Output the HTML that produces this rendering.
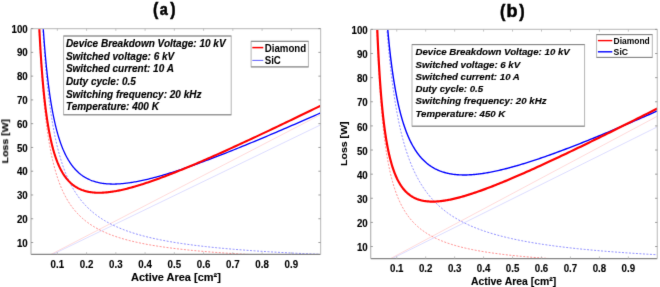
<!DOCTYPE html>
<html><head><meta charset="utf-8"><style>
html,body{margin:0;padding:0;background:#fff;overflow:hidden;}
svg{display:block;}
text{font-family:"Liberation Sans", sans-serif;}
</style></head><body>
<svg width="660" height="287" viewBox="0 0 660 287" font-family='"Liberation Sans", sans-serif' fill="#000">
<defs><filter id="soft" x="0" y="0" width="660" height="287" filterUnits="userSpaceOnUse" color-interpolation-filters="sRGB"><feConvolveMatrix order="3" kernelMatrix="1 10 1 10 100 10 1 10 1" divisor="144" edgeMode="duplicate"/></filter></defs>
<g filter="url(#soft)">
<rect width="660" height="287" fill="#fff"/>
<clipPath id="ca"><rect x="31" y="28.6" width="289.6" height="225.8"/></clipPath>
<g clip-path="url(#ca)"><path d="M46.41,256.78 L320.6,114.64" fill="none" stroke="#ffbcbc" stroke-width="0.55" opacity="1"/><path d="M47.74,256.78 L320.6,124.86" fill="none" stroke="#c0c0ff" stroke-width="0.55" opacity="1"/><path d="M38.52,16.72 L38.66,20.03 L38.81,23.31 L38.95,26.54 L39.1,29.72 L39.25,32.87 L39.4,35.97 L39.55,39.03 L39.7,42.05 L39.86,45.03 L40.02,47.98 L40.18,50.88 L40.34,53.74 L40.51,56.57 L40.67,59.35 L40.84,62.11 L41.02,64.82 L41.19,67.5 L41.37,70.14 L41.55,72.75 L41.73,75.32 L41.91,77.86 L42.1,80.36 L42.29,82.83 L42.48,85.27 L42.67,87.68 L42.87,90.05 L43.07,92.4 L43.27,94.71 L43.48,96.99 L43.68,99.24 L43.89,101.46 L44.11,103.65 L44.32,105.81 L44.54,107.95 L44.76,110.05 L44.99,112.13 L45.22,114.18 L45.45,116.2 L45.68,118.19 L45.92,120.16 L46.16,122.11 L46.4,124.02 L46.65,125.91 L46.9,127.78 L47.15,129.62 L47.41,131.44 L47.67,133.23 L47.93,135 L48.2,136.74 L48.47,138.47 L48.75,140.16 L49.03,141.84 L49.31,143.5 L49.59,145.13 L49.88,146.74 L50.18,148.33 L50.48,149.9 L50.78,151.44 L51.08,152.97 L51.39,154.48 L51.71,155.96 L52.03,157.43 L52.35,158.88 L52.68,160.3 L53.01,161.71 L53.34,163.1 L53.68,164.47 L54.03,165.83 L54.38,167.16 L54.73,168.48 L55.09,169.78 L55.46,171.06 L55.83,172.33 L56.2,173.58 L56.58,174.81 L56.96,176.03 L57.35,177.23 L57.75,178.41 L58.15,179.58 L58.55,180.73 L58.96,181.87 L59.38,182.99 L59.8,184.1 L60.23,185.19 L60.66,186.27 L61.1,187.33 L61.54,188.38 L61.99,189.42 L62.45,190.44 L62.91,191.45 L63.38,192.44 L63.86,193.42 L64.34,194.39 L64.83,195.35 L65.33,196.29 L65.83,197.22 L66.34,198.14 L66.85,199.04 L67.37,199.94 L67.9,200.82 L68.44,201.69 L68.98,202.55 L69.53,203.4 L70.09,204.23 L70.66,205.06 L71.23,205.87 L71.81,206.67 L72.4,207.47 L73,208.25 L73.61,209.02 L74.22,209.78 L74.84,210.53 L75.47,211.27 L76.11,212 L76.76,212.73 L77.41,213.44 L78.08,214.14 L78.75,214.83 L79.43,215.52 L80.13,216.19 L80.83,216.86 L81.54,217.52 L82.26,218.16 L82.99,218.8 L83.73,219.43 L84.48,220.06 L85.24,220.67 L86.01,221.28 L86.79,221.88 L87.58,222.47 L88.38,223.05 L89.19,223.62 L90.02,224.19 L90.85,224.75 L91.7,225.3 L92.55,225.85 L93.42,226.39 L94.3,226.92 L95.2,227.44 L96.1,227.96 L97.02,228.46 L97.94,228.97 L98.89,229.46 L99.84,229.95 L100.81,230.44 L101.79,230.91 L102.78,231.38 L103.79,231.85 L104.81,232.3 L105.84,232.76 L106.89,233.2 L107.95,233.64 L109.03,234.08 L110.12,234.5 L111.22,234.93 L112.34,235.34 L113.48,235.75 L114.63,236.16 L115.79,236.56 L116.98,236.96 L118.17,237.35 L119.39,237.73 L120.62,238.11 L121.86,238.48 L123.13,238.85 L124.41,239.22 L125.71,239.58 L127.02,239.93 L128.35,240.28 L129.71,240.63 L131.07,240.97 L132.46,241.31 L133.87,241.64 L135.29,241.97 L136.74,242.29 L138.2,242.61 L139.69,242.92 L141.19,243.23 L142.71,243.54 L144.26,243.84 L145.82,244.14 L147.41,244.44 L149.02,244.73 L150.65,245.01 L152.3,245.3 L153.97,245.57 L155.67,245.85 L157.39,246.12 L159.13,246.39 L160.89,246.65 L162.68,246.91 L164.5,247.17 L166.34,247.43 L168.2,247.68 L170.09,247.92 L172,248.17 L173.94,248.41 L175.9,248.65 L177.89,248.88 L179.91,249.11 L181.96,249.34 L184.03,249.57 L186.13,249.79 L188.26,250.01 L190.42,250.22 L192.61,250.44 L194.82,250.65 L197.07,250.86 L199.35,251.06 L201.65,251.26 L203.99,251.46 L206.36,251.66 L208.77,251.85 L211.2,252.05 L213.67,252.24 L216.17,252.42 L218.7,252.61 L221.27,252.79 L223.87,252.97 L226.51,253.14 L229.18,253.32 L231.89,253.49 L234.64,253.66 L237.42,253.83 L240.24,254 L243.1,254.16 L246,254.32 L248.93,254.48 L251.91,254.64 L254.92,254.79 L257.98,254.94 L261.08,255.09 L264.22,255.24 L267.4,255.39 L270.62,255.53 L273.89,255.68 L277.2,255.82 L280.56,255.96 L283.96,256.09 L287.41,256.23 L290.9,256.36 L294.44,256.5 L298.03,256.63 L301.67,256.75 L305.35,256.88 L309.09,257.01 L312.87,257.13 L316.71,257.25 L320.6,257.37" fill="none" stroke="#ff6a6a" stroke-width="0.75" stroke-dasharray="2,1.5" opacity="1"/><path d="M42.09,16.72 L42.26,19.74 L42.43,22.73 L42.61,25.69 L42.79,28.61 L42.97,31.49 L43.15,34.34 L43.34,37.15 L43.53,39.93 L43.71,42.67 L43.91,45.39 L44.1,48.06 L44.3,50.71 L44.5,53.33 L44.7,55.91 L44.9,58.46 L45.11,60.98 L45.32,63.47 L45.53,65.93 L45.74,68.36 L45.96,70.76 L46.18,73.13 L46.4,75.48 L46.63,77.79 L46.86,80.08 L47.09,82.34 L47.32,84.57 L47.56,86.77 L47.8,88.95 L48.04,91.1 L48.28,93.22 L48.53,95.32 L48.78,97.4 L49.04,99.44 L49.29,101.47 L49.55,103.47 L49.82,105.44 L50.09,107.39 L50.36,109.32 L50.63,111.22 L50.91,113.1 L51.19,114.96 L51.47,116.8 L51.76,118.61 L52.05,120.4 L52.34,122.17 L52.64,123.92 L52.94,125.65 L53.25,127.35 L53.56,129.04 L53.87,130.7 L54.19,132.35 L54.51,133.97 L54.83,135.57 L55.16,137.16 L55.49,138.73 L55.83,140.27 L56.17,141.8 L56.51,143.31 L56.86,144.8 L57.22,146.28 L57.57,147.73 L57.94,149.17 L58.3,150.59 L58.67,151.99 L59.05,153.38 L59.43,154.75 L59.82,156.1 L60.21,157.44 L60.6,158.76 L61,160.06 L61.4,161.35 L61.81,162.62 L62.23,163.88 L62.65,165.12 L63.07,166.35 L63.5,167.56 L63.94,168.76 L64.38,169.94 L64.82,171.11 L65.27,172.27 L65.73,173.41 L66.19,174.53 L66.66,175.65 L67.13,176.74 L67.61,177.83 L68.1,178.9 L68.59,179.96 L69.09,181.01 L69.59,182.04 L70.1,183.07 L70.62,184.08 L71.14,185.07 L71.67,186.06 L72.2,187.03 L72.74,187.99 L73.29,188.94 L73.85,189.88 L74.41,190.81 L74.98,191.72 L75.55,192.63 L76.14,193.52 L76.73,194.4 L77.33,195.27 L77.93,196.14 L78.54,196.99 L79.16,197.83 L79.79,198.66 L80.42,199.48 L81.07,200.29 L81.72,201.09 L82.38,201.88 L83.04,202.66 L83.72,203.43 L84.4,204.19 L85.09,204.95 L85.79,205.69 L86.5,206.43 L87.22,207.15 L87.94,207.87 L88.68,208.58 L89.42,209.28 L90.18,209.97 L90.94,210.65 L91.71,211.33 L92.49,211.99 L93.28,212.65 L94.08,213.3 L94.89,213.94 L95.71,214.58 L96.54,215.21 L97.39,215.83 L98.24,216.44 L99.1,217.04 L99.97,217.64 L100.85,218.23 L101.75,218.81 L102.65,219.39 L103.57,219.96 L104.49,220.52 L105.43,221.07 L106.38,221.62 L107.34,222.16 L108.32,222.7 L109.3,223.23 L110.3,223.75 L111.31,224.27 L112.33,224.78 L113.36,225.28 L114.41,225.78 L115.47,226.27 L116.54,226.75 L117.63,227.23 L118.73,227.71 L119.84,228.17 L120.97,228.64 L122.11,229.09 L123.26,229.54 L124.43,229.99 L125.62,230.43 L126.81,230.86 L128.03,231.29 L129.25,231.72 L130.5,232.14 L131.75,232.55 L133.03,232.96 L134.32,233.37 L135.62,233.76 L136.94,234.16 L138.28,234.55 L139.63,234.93 L141,235.31 L142.39,235.69 L143.79,236.06 L145.21,236.43 L146.65,236.79 L148.1,237.15 L149.58,237.5 L151.07,237.85 L152.58,238.19 L154.11,238.54 L155.66,238.87 L157.22,239.2 L158.81,239.53 L160.41,239.86 L162.04,240.18 L163.68,240.49 L165.35,240.81 L167.03,241.12 L168.74,241.42 L170.47,241.72 L172.21,242.02 L173.98,242.32 L175.77,242.61 L177.59,242.89 L179.42,243.18 L181.28,243.46 L183.16,243.73 L185.07,244.01 L186.99,244.28 L188.95,244.54 L190.92,244.81 L192.92,245.07 L194.94,245.33 L196.99,245.58 L199.07,245.83 L201.17,246.08 L203.29,246.32 L205.44,246.57 L207.62,246.81 L209.83,247.04 L212.06,247.28 L214.32,247.51 L216.6,247.73 L218.92,247.96 L221.26,248.18 L223.63,248.4 L226.03,248.62 L228.46,248.83 L230.92,249.04 L233.41,249.25 L235.94,249.46 L238.49,249.66 L241.07,249.86 L243.69,250.06 L246.33,250.26 L249.01,250.45 L251.73,250.65 L254.47,250.84 L257.25,251.02 L260.06,251.21 L262.91,251.39 L265.8,251.57 L268.72,251.75 L271.67,251.93 L274.66,252.1 L277.69,252.27 L280.75,252.44 L283.85,252.61 L287,252.78 L290.17,252.94 L293.39,253.1 L296.65,253.26 L299.95,253.42 L303.29,253.58 L306.66,253.73 L310.08,253.88 L313.55,254.03 L317.05,254.18 L320.6,254.33" fill="none" stroke="#6a6aff" stroke-width="0.75" stroke-dasharray="2,1.5" opacity="1"/><path d="M41.45,-1.64 L41.59,0.98 L41.73,3.57 L41.87,6.13 L42.01,8.66 L42.16,11.17 L42.31,13.65 L42.45,16.1 L42.6,18.52 L42.75,20.92 L42.91,23.29 L43.06,25.64 L43.21,27.96 L43.37,30.26 L43.53,32.53 L43.69,34.77 L43.85,36.99 L44.02,39.19 L44.18,41.36 L44.35,43.51 L44.52,45.63 L44.69,47.73 L44.86,49.81 L45.03,51.87 L45.21,53.9 L45.39,55.91 L45.57,57.89 L45.75,59.86 L45.93,61.8 L46.12,63.72 L46.3,65.62 L46.49,67.5 L46.68,69.36 L46.88,71.19 L47.07,73.01 L47.27,74.8 L47.47,76.57 L47.67,78.33 L47.87,80.06 L48.08,81.78 L48.29,83.47 L48.49,85.15 L48.71,86.8 L48.92,88.44 L49.14,90.06 L49.36,91.65 L49.58,93.23 L49.8,94.8 L50.02,96.34 L50.25,97.87 L50.48,99.37 L50.71,100.86 L50.95,102.34 L51.19,103.79 L51.43,105.23 L51.67,106.65 L51.91,108.05 L52.16,109.44 L52.41,110.81 L52.66,112.16 L52.92,113.5 L53.18,114.82 L53.44,116.12 L53.7,117.41 L53.96,118.68 L54.23,119.94 L54.5,121.18 L54.78,122.41 L55.06,123.62 L55.33,124.81 L55.62,125.99 L55.9,127.16 L56.19,128.31 L56.48,129.44 L56.78,130.57 L57.08,131.67 L57.38,132.76 L57.68,133.84 L57.99,134.91 L58.3,135.96 L58.61,136.99 L58.93,138.02 L59.25,139.02 L59.57,140.02 L59.9,141 L60.23,141.97 L60.56,142.93 L60.9,143.87 L61.24,144.8 L61.58,145.71 L61.93,146.62 L62.28,147.51 L62.64,148.38 L62.99,149.25 L63.36,150.1 L63.72,150.94 L64.09,151.77 L64.47,152.59 L64.84,153.39 L65.22,154.18 L65.61,154.96 L66,155.73 L66.39,156.49 L66.79,157.23 L67.19,157.97 L67.6,158.69 L68.01,159.4 L68.42,160.1 L68.84,160.78 L69.26,161.46 L69.69,162.13 L70.12,162.78 L70.56,163.42 L71,164.06 L71.44,164.68 L71.89,165.29 L72.35,165.89 L72.81,166.48 L73.27,167.05 L73.74,167.62 L74.21,168.18 L74.69,168.73 L75.17,169.26 L75.66,169.79 L76.16,170.3 L76.66,170.81 L77.16,171.3 L77.67,171.79 L78.18,172.26 L78.7,172.73 L79.23,173.18 L79.76,173.63 L80.29,174.07 L80.84,174.49 L81.38,174.91 L81.94,175.31 L82.49,175.71 L83.06,176.1 L83.63,176.47 L84.21,176.84 L84.79,177.2 L85.38,177.55 L85.97,177.89 L86.57,178.22 L87.18,178.54 L87.79,178.85 L88.41,179.15 L89.04,179.44 L89.67,179.73 L90.31,180 L90.95,180.27 L91.6,180.52 L92.26,180.77 L92.93,181 L93.6,181.23 L94.28,181.45 L94.97,181.66 L95.66,181.86 L96.36,182.06 L97.07,182.24 L97.79,182.41 L98.51,182.58 L99.24,182.74 L99.98,182.88 L100.72,183.02 L101.48,183.15 L102.24,183.27 L103.01,183.39 L103.78,183.49 L104.57,183.58 L105.36,183.67 L106.16,183.75 L106.97,183.81 L107.79,183.87 L108.62,183.92 L109.45,183.97 L110.3,184 L111.15,184.02 L112.01,184.04 L112.88,184.05 L113.76,184.04 L114.65,184.03 L115.55,184.01 L116.46,183.99 L117.37,183.95 L118.3,183.9 L119.24,183.85 L120.18,183.79 L121.14,183.71 L122.1,183.63 L123.08,183.54 L124.06,183.44 L125.06,183.34 L126.06,183.22 L127.08,183.1 L128.11,182.96 L129.14,182.82 L130.19,182.67 L131.25,182.51 L132.32,182.34 L133.4,182.16 L134.49,181.97 L135.6,181.78 L136.71,181.57 L137.84,181.36 L138.98,181.13 L140.13,180.9 L141.29,180.66 L142.47,180.41 L143.65,180.15 L144.85,179.88 L146.06,179.6 L147.29,179.31 L148.52,179.02 L149.77,178.71 L151.03,178.4 L152.31,178.07 L153.6,177.74 L154.9,177.39 L156.21,177.04 L157.54,176.68 L158.89,176.31 L160.24,175.93 L161.61,175.54 L163,175.13 L164.4,174.72 L165.81,174.3 L167.24,173.87 L168.68,173.43 L170.14,172.98 L171.61,172.52 L173.1,172.06 L174.61,171.58 L176.13,171.09 L177.66,170.59 L179.21,170.08 L180.78,169.56 L182.37,169.03 L183.97,168.48 L185.58,167.93 L187.22,167.37 L188.87,166.8 L190.53,166.22 L192.22,165.62 L193.92,165.02 L195.64,164.4 L197.38,163.78 L199.14,163.14 L200.91,162.49 L202.7,161.83 L204.51,161.16 L206.34,160.48 L208.19,159.79 L210.06,159.09 L211.95,158.37 L213.85,157.64 L215.78,156.91 L217.73,156.16 L219.7,155.39 L221.68,154.62 L223.69,153.83 L225.72,153.04 L227.77,152.23 L229.84,151.41 L231.93,150.57 L234.05,149.73 L236.18,148.87 L238.34,148 L240.52,147.11 L242.73,146.22 L244.95,145.31 L247.2,144.39 L249.47,143.45 L251.77,142.5 L254.09,141.54 L256.43,140.57 L258.8,139.58 L261.2,138.58 L263.61,137.56 L266.06,136.54 L268.52,135.49 L271.02,134.44 L273.54,133.37 L276.08,132.28 L278.66,131.18 L281.25,130.07 L283.88,128.94 L286.53,127.8 L289.21,126.64 L291.92,125.47 L294.66,124.28 L297.42,123.08 L300.22,121.87 L303.04,120.63 L305.89,119.38 L308.77,118.12 L311.68,116.84 L314.63,115.55 L317.6,114.23 L320.6,112.91" fill="none" stroke="#0000ff" stroke-width="1.3" stroke-linejoin="round"/><path d="M38.05,-0.34 L38.16,2.54 L38.28,5.39 L38.39,8.2 L38.51,10.98 L38.63,13.72 L38.75,16.44 L38.87,19.12 L38.99,21.77 L39.11,24.39 L39.24,26.98 L39.37,29.54 L39.5,32.07 L39.63,34.56 L39.76,37.03 L39.89,39.47 L40.02,41.88 L40.16,44.26 L40.3,46.62 L40.44,48.94 L40.58,51.24 L40.72,53.51 L40.86,55.75 L41.01,57.97 L41.15,60.16 L41.3,62.32 L41.45,64.46 L41.61,66.57 L41.76,68.65 L41.91,70.71 L42.07,72.75 L42.23,74.76 L42.39,76.75 L42.55,78.71 L42.72,80.65 L42.89,82.56 L43.05,84.45 L43.22,86.32 L43.4,88.16 L43.57,89.98 L43.75,91.78 L43.92,93.56 L44.1,95.32 L44.29,97.05 L44.47,98.76 L44.66,100.45 L44.85,102.12 L45.04,103.77 L45.23,105.4 L45.42,107 L45.62,108.59 L45.82,110.16 L46.02,111.7 L46.23,113.23 L46.43,114.74 L46.64,116.22 L46.85,117.69 L47.07,119.14 L47.28,120.57 L47.5,121.99 L47.72,123.38 L47.94,124.76 L48.17,126.11 L48.4,127.45 L48.63,128.77 L48.86,130.08 L49.1,131.37 L49.34,132.64 L49.58,133.89 L49.82,135.12 L50.07,136.34 L50.32,137.54 L50.57,138.73 L50.83,139.9 L51.09,141.05 L51.35,142.19 L51.61,143.31 L51.88,144.42 L52.15,145.51 L52.42,146.58 L52.7,147.64 L52.98,148.69 L53.26,149.72 L53.55,150.73 L53.84,151.73 L54.13,152.72 L54.43,153.69 L54.73,154.65 L55.03,155.59 L55.34,156.52 L55.65,157.43 L55.96,158.33 L56.28,159.22 L56.6,160.09 L56.92,160.95 L57.25,161.79 L57.58,162.63 L57.92,163.44 L58.26,164.25 L58.6,165.04 L58.95,165.82 L59.3,166.59 L59.65,167.35 L60.01,168.09 L60.37,168.82 L60.74,169.53 L61.11,170.24 L61.49,170.93 L61.87,171.61 L62.25,172.28 L62.64,172.93 L63.03,173.58 L63.43,174.21 L63.83,174.83 L64.24,175.44 L64.65,176.04 L65.06,176.62 L65.48,177.2 L65.91,177.76 L66.34,178.31 L66.77,178.85 L67.21,179.38 L67.66,179.9 L68.11,180.4 L68.56,180.9 L69.02,181.38 L69.49,181.86 L69.96,182.32 L70.44,182.77 L70.92,183.22 L71.4,183.65 L71.9,184.07 L72.39,184.48 L72.9,184.88 L73.41,185.27 L73.92,185.65 L74.44,186.02 L74.97,186.38 L75.5,186.72 L76.04,187.06 L76.59,187.39 L77.14,187.71 L77.7,188.02 L78.26,188.32 L78.83,188.6 L79.41,188.88 L79.99,189.15 L80.58,189.41 L81.18,189.66 L81.78,189.9 L82.39,190.12 L83.01,190.34 L83.63,190.55 L84.26,190.75 L84.9,190.94 L85.55,191.13 L86.2,191.3 L86.86,191.46 L87.53,191.61 L88.21,191.75 L88.89,191.89 L89.58,192.01 L90.28,192.12 L90.99,192.23 L91.7,192.32 L92.42,192.41 L93.16,192.48 L93.9,192.55 L94.64,192.61 L95.4,192.66 L96.17,192.69 L96.94,192.72 L97.72,192.74 L98.51,192.75 L99.31,192.75 L100.12,192.75 L100.94,192.73 L101.77,192.7 L102.61,192.66 L103.45,192.62 L104.31,192.56 L105.18,192.5 L106.05,192.42 L106.94,192.34 L107.84,192.25 L108.74,192.14 L109.66,192.03 L110.59,191.91 L111.52,191.78 L112.47,191.64 L113.43,191.49 L114.4,191.33 L115.38,191.16 L116.37,190.98 L117.38,190.79 L118.39,190.6 L119.42,190.39 L120.46,190.17 L121.51,189.94 L122.57,189.71 L123.64,189.46 L124.73,189.2 L125.83,188.94 L126.94,188.66 L128.06,188.38 L129.2,188.08 L130.35,187.77 L131.51,187.46 L132.69,187.13 L133.87,186.79 L135.08,186.45 L136.29,186.09 L137.52,185.73 L138.77,185.35 L140.02,184.96 L141.3,184.56 L142.58,184.15 L143.88,183.74 L145.2,183.31 L146.53,182.87 L147.88,182.42 L149.24,181.95 L150.62,181.48 L152.01,181 L153.42,180.51 L154.84,180 L156.28,179.49 L157.74,178.96 L159.21,178.42 L160.7,177.87 L162.21,177.31 L163.73,176.74 L165.28,176.16 L166.83,175.56 L168.41,174.96 L170.01,174.34 L171.62,173.71 L173.25,173.07 L174.9,172.41 L176.57,171.75 L178.26,171.07 L179.96,170.38 L181.69,169.68 L183.43,168.96 L185.2,168.24 L186.99,167.5 L188.79,166.75 L190.62,165.98 L192.47,165.2 L194.33,164.41 L196.22,163.61 L198.13,162.8 L200.07,161.97 L202.02,161.12 L204,160.27 L206,159.4 L208.02,158.51 L210.06,157.62 L212.13,156.7 L214.22,155.78 L216.34,154.84 L218.48,153.89 L220.64,152.92 L222.83,151.94 L225.04,150.94 L227.28,149.93 L229.55,148.9 L231.84,147.86 L234.15,146.8 L236.49,145.73 L238.86,144.64 L241.26,143.54 L243.68,142.42 L246.13,141.29 L248.61,140.14 L251.11,138.97 L253.65,137.79 L256.21,136.59 L258.8,135.38 L261.43,134.14 L264.08,132.89 L266.76,131.63 L269.47,130.34 L272.22,129.04 L274.99,127.73 L277.8,126.39 L280.64,125.04 L283.51,123.66 L286.41,122.27 L289.34,120.87 L292.31,119.44 L295.32,117.99 L298.35,116.53 L301.42,115.04 L304.53,113.54 L307.67,112.02 L310.85,110.48 L314.06,108.91 L317.31,107.33 L320.6,105.73" fill="none" stroke="#ff0000" stroke-width="2.1" stroke-linejoin="round"/></g>
<line x1="31" y1="28.6" x2="320.6" y2="28.6" stroke="#c4c4c4" stroke-width="1.2"/>
<line x1="31" y1="254.4" x2="320.6" y2="254.4" stroke="#858585" stroke-width="1.1"/>
<line x1="31" y1="28.6" x2="31" y2="254.4" stroke="#b4b4b4" stroke-width="1.2"/>
<line x1="320.6" y1="28.6" x2="320.6" y2="254.4" stroke="#c4c4c4" stroke-width="1.2"/>
<line x1="57.33" y1="254.4" x2="57.33" y2="252.2" stroke="#b4b4b4" stroke-width="0.8"/>
<line x1="57.33" y1="28.6" x2="57.33" y2="30.8" stroke="#b4b4b4" stroke-width="0.8"/>
<line x1="86.58" y1="254.4" x2="86.58" y2="252.2" stroke="#b4b4b4" stroke-width="0.8"/>
<line x1="86.58" y1="28.6" x2="86.58" y2="30.8" stroke="#b4b4b4" stroke-width="0.8"/>
<line x1="115.83" y1="254.4" x2="115.83" y2="252.2" stroke="#b4b4b4" stroke-width="0.8"/>
<line x1="115.83" y1="28.6" x2="115.83" y2="30.8" stroke="#b4b4b4" stroke-width="0.8"/>
<line x1="145.08" y1="254.4" x2="145.08" y2="252.2" stroke="#b4b4b4" stroke-width="0.8"/>
<line x1="145.08" y1="28.6" x2="145.08" y2="30.8" stroke="#b4b4b4" stroke-width="0.8"/>
<line x1="174.34" y1="254.4" x2="174.34" y2="252.2" stroke="#b4b4b4" stroke-width="0.8"/>
<line x1="174.34" y1="28.6" x2="174.34" y2="30.8" stroke="#b4b4b4" stroke-width="0.8"/>
<line x1="203.59" y1="254.4" x2="203.59" y2="252.2" stroke="#b4b4b4" stroke-width="0.8"/>
<line x1="203.59" y1="28.6" x2="203.59" y2="30.8" stroke="#b4b4b4" stroke-width="0.8"/>
<line x1="232.84" y1="254.4" x2="232.84" y2="252.2" stroke="#b4b4b4" stroke-width="0.8"/>
<line x1="232.84" y1="28.6" x2="232.84" y2="30.8" stroke="#b4b4b4" stroke-width="0.8"/>
<line x1="262.09" y1="254.4" x2="262.09" y2="252.2" stroke="#b4b4b4" stroke-width="0.8"/>
<line x1="262.09" y1="28.6" x2="262.09" y2="30.8" stroke="#b4b4b4" stroke-width="0.8"/>
<line x1="291.35" y1="254.4" x2="291.35" y2="252.2" stroke="#b4b4b4" stroke-width="0.8"/>
<line x1="291.35" y1="28.6" x2="291.35" y2="30.8" stroke="#b4b4b4" stroke-width="0.8"/>
<line x1="31" y1="242.52" x2="33.2" y2="242.52" stroke="#858585" stroke-width="0.8"/>
<line x1="320.6" y1="242.52" x2="318.4" y2="242.52" stroke="#858585" stroke-width="0.8"/>
<line x1="31" y1="218.75" x2="33.2" y2="218.75" stroke="#858585" stroke-width="0.8"/>
<line x1="320.6" y1="218.75" x2="318.4" y2="218.75" stroke="#858585" stroke-width="0.8"/>
<line x1="31" y1="194.98" x2="33.2" y2="194.98" stroke="#858585" stroke-width="0.8"/>
<line x1="320.6" y1="194.98" x2="318.4" y2="194.98" stroke="#858585" stroke-width="0.8"/>
<line x1="31" y1="171.21" x2="33.2" y2="171.21" stroke="#858585" stroke-width="0.8"/>
<line x1="320.6" y1="171.21" x2="318.4" y2="171.21" stroke="#858585" stroke-width="0.8"/>
<line x1="31" y1="147.44" x2="33.2" y2="147.44" stroke="#858585" stroke-width="0.8"/>
<line x1="320.6" y1="147.44" x2="318.4" y2="147.44" stroke="#858585" stroke-width="0.8"/>
<line x1="31" y1="123.67" x2="33.2" y2="123.67" stroke="#858585" stroke-width="0.8"/>
<line x1="320.6" y1="123.67" x2="318.4" y2="123.67" stroke="#858585" stroke-width="0.8"/>
<line x1="31" y1="99.91" x2="33.2" y2="99.91" stroke="#858585" stroke-width="0.8"/>
<line x1="320.6" y1="99.91" x2="318.4" y2="99.91" stroke="#858585" stroke-width="0.8"/>
<line x1="31" y1="76.14" x2="33.2" y2="76.14" stroke="#858585" stroke-width="0.8"/>
<line x1="320.6" y1="76.14" x2="318.4" y2="76.14" stroke="#858585" stroke-width="0.8"/>
<line x1="31" y1="52.37" x2="33.2" y2="52.37" stroke="#858585" stroke-width="0.8"/>
<line x1="320.6" y1="52.37" x2="318.4" y2="52.37" stroke="#858585" stroke-width="0.8"/>
<line x1="31" y1="28.6" x2="33.2" y2="28.6" stroke="#858585" stroke-width="0.8"/>
<line x1="320.6" y1="28.6" x2="318.4" y2="28.6" stroke="#858585" stroke-width="0.8"/>
<text x="57.33" y="267.6" text-anchor="middle" font-size="10" font-weight="bold" stroke="#000" stroke-width="0.12" textLength="13.48" lengthAdjust="spacingAndGlyphs">0.1</text>
<text x="86.58" y="267.6" text-anchor="middle" font-size="10" font-weight="bold" stroke="#000" stroke-width="0.12" textLength="13.48" lengthAdjust="spacingAndGlyphs">0.2</text>
<text x="115.83" y="267.6" text-anchor="middle" font-size="10" font-weight="bold" stroke="#000" stroke-width="0.12" textLength="13.48" lengthAdjust="spacingAndGlyphs">0.3</text>
<text x="145.08" y="267.6" text-anchor="middle" font-size="10" font-weight="bold" stroke="#000" stroke-width="0.12" textLength="13.48" lengthAdjust="spacingAndGlyphs">0.4</text>
<text x="174.34" y="267.6" text-anchor="middle" font-size="10" font-weight="bold" stroke="#000" stroke-width="0.12" textLength="13.48" lengthAdjust="spacingAndGlyphs">0.5</text>
<text x="203.59" y="267.6" text-anchor="middle" font-size="10" font-weight="bold" stroke="#000" stroke-width="0.12" textLength="13.48" lengthAdjust="spacingAndGlyphs">0.6</text>
<text x="232.84" y="267.6" text-anchor="middle" font-size="10" font-weight="bold" stroke="#000" stroke-width="0.12" textLength="13.48" lengthAdjust="spacingAndGlyphs">0.7</text>
<text x="262.09" y="267.6" text-anchor="middle" font-size="10" font-weight="bold" stroke="#000" stroke-width="0.12" textLength="13.48" lengthAdjust="spacingAndGlyphs">0.8</text>
<text x="291.35" y="267.6" text-anchor="middle" font-size="10" font-weight="bold" stroke="#000" stroke-width="0.12" textLength="13.48" lengthAdjust="spacingAndGlyphs">0.9</text>
<text x="16.91" y="246.62" font-size="10" font-weight="bold" stroke="#000" stroke-width="0.12" textLength="10.79" lengthAdjust="spacingAndGlyphs">10</text>
<text x="16.91" y="222.85" font-size="10" font-weight="bold" stroke="#000" stroke-width="0.12" textLength="10.79" lengthAdjust="spacingAndGlyphs">20</text>
<text x="16.91" y="199.08" font-size="10" font-weight="bold" stroke="#000" stroke-width="0.12" textLength="10.79" lengthAdjust="spacingAndGlyphs">30</text>
<text x="16.91" y="175.31" font-size="10" font-weight="bold" stroke="#000" stroke-width="0.12" textLength="10.79" lengthAdjust="spacingAndGlyphs">40</text>
<text x="16.91" y="151.54" font-size="10" font-weight="bold" stroke="#000" stroke-width="0.12" textLength="10.79" lengthAdjust="spacingAndGlyphs">50</text>
<text x="16.91" y="127.77" font-size="10" font-weight="bold" stroke="#000" stroke-width="0.12" textLength="10.79" lengthAdjust="spacingAndGlyphs">60</text>
<text x="16.91" y="104.01" font-size="10" font-weight="bold" stroke="#000" stroke-width="0.12" textLength="10.79" lengthAdjust="spacingAndGlyphs">70</text>
<text x="16.91" y="80.24" font-size="10" font-weight="bold" stroke="#000" stroke-width="0.12" textLength="10.79" lengthAdjust="spacingAndGlyphs">80</text>
<text x="16.91" y="56.47" font-size="10" font-weight="bold" stroke="#000" stroke-width="0.12" textLength="10.79" lengthAdjust="spacingAndGlyphs">90</text>
<text x="11.52" y="32.7" font-size="10" font-weight="bold" stroke="#000" stroke-width="0.12" textLength="16.18" lengthAdjust="spacingAndGlyphs">100</text>
<text x="131" y="281.3" font-size="10.6" font-weight="bold" stroke="#000" stroke-width="0.12" textLength="89.8" lengthAdjust="spacingAndGlyphs">Active Area [cm²]</text>
<text transform="translate(8.2,163.4) rotate(-90)" x="0" y="0" font-size="9.6" font-weight="bold" stroke="#000" stroke-width="0.12" textLength="44.3" lengthAdjust="spacingAndGlyphs">Loss [W]</text>
<text transform="translate(153.01,14.73) scale(0.85,1)" font-size="18.7" font-weight="bold" stroke="#000" stroke-width="0.55">(</text>
<text transform="translate(159.7,14.5) scale(0.85,1)" font-size="17" font-weight="bold" stroke="#000" stroke-width="0.55">a</text>
<text transform="translate(170.3,14.73) scale(0.85,1)" font-size="18.7" font-weight="bold" stroke="#000" stroke-width="0.55">)</text>
<rect x="63.6" y="36" width="167.6" height="78.8" fill="#fff" stroke="#b4b4b4" stroke-width="1"/>
<line x1="63.6" y1="114.8" x2="231.2" y2="114.8" stroke="#858585" stroke-width="1"/>
<line x1="63.6" y1="36" x2="231.2" y2="36" stroke="#858585" stroke-width="1"/>
<text x="65.9" y="47.2" font-size="10" font-weight="bold" font-style="italic" stroke="#000" stroke-width="0.15" textLength="159.68" lengthAdjust="spacingAndGlyphs">Device Breakdown Voltage: 10 kV</text>
<text x="65.9" y="59.8" font-size="10" font-weight="bold" font-style="italic" stroke="#000" stroke-width="0.15" textLength="108.36" lengthAdjust="spacingAndGlyphs">Switched voltage: 6 kV</text>
<text x="65.9" y="72.4" font-size="10" font-weight="bold" font-style="italic" stroke="#000" stroke-width="0.15" textLength="107.98" lengthAdjust="spacingAndGlyphs">Switched current: 10 A</text>
<text x="65.9" y="85" font-size="10" font-weight="bold" font-style="italic" stroke="#000" stroke-width="0.15" textLength="70.03" lengthAdjust="spacingAndGlyphs">Duty cycle: 0.5</text>
<text x="65.9" y="97.6" font-size="10" font-weight="bold" font-style="italic" stroke="#000" stroke-width="0.15" textLength="135.58" lengthAdjust="spacingAndGlyphs">Switching frequency: 20 kHz</text>
<text x="65.9" y="110.2" font-size="10" font-weight="bold" font-style="italic" stroke="#000" stroke-width="0.15" textLength="92.99" lengthAdjust="spacingAndGlyphs">Temperature: 400 K</text>
<rect x="251.1" y="41.3" width="57.3" height="25.6" fill="#fff" stroke="#b4b4b4" stroke-width="1"/>
<line x1="251.1" y1="66.9" x2="308.4" y2="66.9" stroke="#858585" stroke-width="1"/>
<line x1="251.1" y1="41.3" x2="308.4" y2="41.3" stroke="#858585" stroke-width="1"/>
<line x1="252.3" y1="47.6" x2="263.3" y2="47.6" stroke="#ff0000" stroke-width="1.5"/>
<text x="264.7" y="52" font-size="10" font-weight="bold" textLength="41.5" lengthAdjust="spacingAndGlyphs">Diamond</text>
<line x1="252.3" y1="60.4" x2="263.3" y2="60.4" stroke="#6060ff" stroke-width="1.0"/>
<text x="264.7" y="64.3" font-size="10" font-weight="bold" textLength="16.2" lengthAdjust="spacingAndGlyphs">SiC</text>
<clipPath id="cb"><rect x="370.7" y="29.4" width="286.6" height="229.2"/></clipPath>
<g clip-path="url(#cb)"><path d="M385.9,261.01 L657.3,116.25" fill="none" stroke="#ffbcbc" stroke-width="0.55" opacity="1"/><path d="M387.23,261.01 L657.3,126.87" fill="none" stroke="#c0c0ff" stroke-width="0.55" opacity="1"/><path d="M376.49,17.34 L376.61,20.88 L376.74,24.37 L376.86,27.82 L376.99,31.21 L377.12,34.56 L377.26,37.86 L377.39,41.12 L377.53,44.33 L377.66,47.49 L377.8,50.61 L377.95,53.69 L378.09,56.72 L378.23,59.72 L378.38,62.67 L378.53,65.57 L378.68,68.44 L378.84,71.27 L379,74.06 L379.15,76.81 L379.32,79.52 L379.48,82.19 L379.64,84.83 L379.81,87.43 L379.98,89.99 L380.15,92.52 L380.33,95.01 L380.51,97.46 L380.69,99.88 L380.87,102.27 L381.06,104.63 L381.24,106.95 L381.43,109.24 L381.63,111.5 L381.82,113.72 L382.02,115.92 L382.22,118.08 L382.43,120.21 L382.64,122.32 L382.85,124.39 L383.06,126.44 L383.28,128.45 L383.5,130.44 L383.72,132.4 L383.94,134.34 L384.17,136.24 L384.4,138.12 L384.64,139.98 L384.88,141.8 L385.12,143.61 L385.37,145.38 L385.62,147.14 L385.87,148.86 L386.12,150.57 L386.38,152.25 L386.65,153.9 L386.91,155.53 L387.19,157.14 L387.46,158.73 L387.74,160.3 L388.02,161.84 L388.31,163.36 L388.6,164.86 L388.89,166.34 L389.19,167.8 L389.5,169.24 L389.8,170.66 L390.12,172.06 L390.43,173.43 L390.75,174.79 L391.08,176.13 L391.41,177.46 L391.74,178.76 L392.08,180.05 L392.43,181.31 L392.78,182.56 L393.13,183.79 L393.49,185.01 L393.86,186.21 L394.22,187.39 L394.6,188.55 L394.98,189.7 L395.36,190.83 L395.76,191.95 L396.15,193.05 L396.55,194.13 L396.96,195.21 L397.38,196.26 L397.79,197.3 L398.22,198.33 L398.65,199.34 L399.09,200.34 L399.53,201.32 L399.98,202.29 L400.44,203.24 L400.9,204.19 L401.37,205.12 L401.85,206.03 L402.33,206.94 L402.82,207.83 L403.32,208.71 L403.82,209.57 L404.33,210.43 L404.85,211.27 L405.37,212.1 L405.91,212.92 L406.45,213.73 L406.99,214.52 L407.55,215.31 L408.11,216.08 L408.69,216.85 L409.27,217.6 L409.85,218.34 L410.45,219.07 L411.05,219.79 L411.67,220.5 L412.29,221.21 L412.92,221.9 L413.56,222.58 L414.21,223.25 L414.87,223.92 L415.54,224.57 L416.21,225.21 L416.9,225.85 L417.6,226.48 L418.3,227.09 L419.02,227.7 L419.74,228.3 L420.48,228.9 L421.23,229.48 L421.99,230.06 L422.75,230.62 L423.53,231.18 L424.32,231.74 L425.12,232.28 L425.94,232.82 L426.76,233.35 L427.6,233.87 L428.45,234.38 L429.31,234.89 L430.18,235.39 L431.06,235.88 L431.96,236.37 L432.87,236.85 L433.79,237.32 L434.73,237.79 L435.68,238.25 L436.64,238.7 L437.62,239.15 L438.61,239.59 L439.61,240.02 L440.63,240.45 L441.66,240.87 L442.71,241.29 L443.77,241.7 L444.85,242.11 L445.94,242.51 L447.05,242.9 L448.17,243.29 L449.31,243.67 L450.47,244.05 L451.64,244.42 L452.83,244.79 L454.04,245.15 L455.26,245.51 L456.5,245.86 L457.76,246.2 L459.03,246.55 L460.33,246.88 L461.64,247.22 L462.97,247.54 L464.32,247.87 L465.69,248.19 L467.08,248.5 L468.48,248.81 L469.91,249.12 L471.36,249.42 L472.83,249.71 L474.32,250.01 L475.83,250.3 L477.36,250.58 L478.92,250.86 L480.49,251.14 L482.09,251.41 L483.71,251.68 L485.35,251.95 L487.02,252.21 L488.71,252.47 L490.43,252.72 L492.17,252.97 L493.93,253.22 L495.72,253.46 L497.53,253.7 L499.37,253.94 L501.24,254.17 L503.13,254.41 L505.05,254.63 L507,254.86 L508.97,255.08 L510.97,255.3 L513,255.51 L515.06,255.72 L517.15,255.93 L519.27,256.14 L521.42,256.34 L523.59,256.54 L525.8,256.74 L528.04,256.93 L530.32,257.13 L532.62,257.31 L534.96,257.5 L537.33,257.69 L539.73,257.87 L542.17,258.05 L544.65,258.22 L547.15,258.4 L549.7,258.57 L552.28,258.74 L554.89,258.9 L557.55,259.07 L560.24,259.23 L562.97,259.39 L565.73,259.55 L568.54,259.7 L571.39,259.86 L574.28,260.01 L577.2,260.16 L580.17,260.3 L583.19,260.45 L586.24,260.59 L589.34,260.73 L592.48,260.87 L595.67,261.01 L598.9,261.14 L602.17,261.28 L605.5,261.41 L608.87,261.54 L612.29,261.66 L615.76,261.79 L619.27,261.91 L622.84,262.04 L626.46,262.16 L630.12,262.28 L633.84,262.39 L637.62,262.51 L641.44,262.62 L645.32,262.74 L649.26,262.85 L653.25,262.96 L657.3,263.06" fill="none" stroke="#ff6a6a" stroke-width="0.75" stroke-dasharray="2,1.5" opacity="1"/><path d="M386,17.34 L386.21,20.14 L386.41,22.9 L386.62,25.64 L386.83,28.35 L387.04,31.03 L387.26,33.68 L387.47,36.29 L387.69,38.88 L387.92,41.45 L388.14,43.98 L388.37,46.48 L388.6,48.96 L388.83,51.41 L389.06,53.83 L389.3,56.23 L389.54,58.6 L389.79,60.94 L390.03,63.26 L390.28,65.55 L390.53,67.82 L390.78,70.06 L391.04,72.28 L391.3,74.47 L391.56,76.64 L391.83,78.78 L392.1,80.9 L392.37,83 L392.64,85.07 L392.92,87.12 L393.2,89.15 L393.49,91.16 L393.77,93.14 L394.06,95.1 L394.36,97.04 L394.65,98.96 L394.95,100.86 L395.26,102.74 L395.56,104.59 L395.87,106.43 L396.19,108.24 L396.5,110.04 L396.82,111.81 L397.15,113.57 L397.48,115.3 L397.81,117.02 L398.14,118.72 L398.48,120.4 L398.82,122.06 L399.17,123.7 L399.52,125.32 L399.88,126.93 L400.23,128.52 L400.6,130.09 L400.96,131.64 L401.33,133.18 L401.71,134.7 L402.09,136.2 L402.47,137.69 L402.86,139.15 L403.25,140.61 L403.65,142.05 L404.05,143.47 L404.45,144.87 L404.86,146.26 L405.27,147.64 L405.69,149 L406.12,150.34 L406.54,151.67 L406.98,152.99 L407.42,154.29 L407.86,155.57 L408.31,156.84 L408.76,158.1 L409.22,159.35 L409.68,160.58 L410.15,161.79 L410.62,163 L411.1,164.18 L411.58,165.36 L412.07,166.53 L412.57,167.68 L413.07,168.81 L413.57,169.94 L414.08,171.05 L414.6,172.15 L415.12,173.24 L415.65,174.32 L416.19,175.38 L416.73,176.44 L417.27,177.48 L417.83,178.51 L418.38,179.53 L418.95,180.53 L419.52,181.53 L420.1,182.51 L420.68,183.49 L421.27,184.45 L421.87,185.4 L422.48,186.35 L423.09,187.28 L423.7,188.2 L424.33,189.11 L424.96,190.01 L425.6,190.9 L426.25,191.78 L426.9,192.66 L427.56,193.52 L428.23,194.37 L428.9,195.21 L429.58,196.05 L430.27,196.87 L430.97,197.69 L431.68,198.49 L432.39,199.29 L433.11,200.08 L433.84,200.86 L434.58,201.63 L435.33,202.39 L436.08,203.15 L436.85,203.89 L437.62,204.63 L438.4,205.36 L439.19,206.08 L439.98,206.8 L440.79,207.5 L441.61,208.2 L442.43,208.89 L443.26,209.57 L444.11,210.25 L444.96,210.92 L445.82,211.58 L446.69,212.23 L447.57,212.88 L448.47,213.51 L449.37,214.15 L450.28,214.77 L451.2,215.39 L452.13,216 L453.07,216.6 L454.03,217.2 L454.99,217.79 L455.96,218.37 L456.95,218.95 L457.95,219.52 L458.95,220.09 L459.97,220.65 L461,221.2 L462.04,221.75 L463.1,222.29 L464.16,222.82 L465.24,223.35 L466.33,223.87 L467.43,224.39 L468.54,224.9 L469.67,225.41 L470.8,225.91 L471.96,226.4 L473.12,226.89 L474.3,227.38 L475.49,227.85 L476.69,228.33 L477.91,228.79 L479.14,229.26 L480.38,229.71 L481.64,230.17 L482.91,230.61 L484.2,231.06 L485.5,231.5 L486.81,231.93 L488.14,232.36 L489.49,232.78 L490.85,233.2 L492.22,233.61 L493.61,234.02 L495.02,234.43 L496.44,234.83 L497.88,235.22 L499.33,235.61 L500.8,236 L502.28,236.38 L503.79,236.76 L505.31,237.14 L506.84,237.51 L508.4,237.87 L509.97,238.24 L511.56,238.6 L513.16,238.95 L514.79,239.3 L516.43,239.65 L518.09,239.99 L519.77,240.33 L521.47,240.66 L523.18,241 L524.92,241.32 L526.68,241.65 L528.45,241.97 L530.25,242.29 L532.06,242.6 L533.9,242.91 L535.75,243.22 L537.63,243.52 L539.53,243.82 L541.45,244.12 L543.39,244.41 L545.35,244.7 L547.33,244.99 L549.34,245.27 L551.37,245.55 L553.42,245.83 L555.49,246.1 L557.59,246.37 L559.71,246.64 L561.85,246.91 L564.02,247.17 L566.21,247.43 L568.43,247.69 L570.67,247.94 L572.94,248.19 L575.23,248.44 L577.55,248.69 L579.89,248.93 L582.26,249.17 L584.66,249.41 L587.08,249.64 L589.53,249.87 L592.01,250.1 L594.52,250.33 L597.05,250.55 L599.61,250.78 L602.2,251 L604.82,251.21 L607.47,251.43 L610.15,251.64 L612.85,251.85 L615.59,252.06 L618.36,252.27 L621.16,252.47 L623.99,252.67 L626.85,252.87 L629.75,253.06 L632.68,253.26 L635.64,253.45 L638.63,253.64 L641.65,253.83 L644.71,254.02 L647.81,254.2 L650.94,254.38 L654.1,254.56 L657.3,254.74" fill="none" stroke="#6a6aff" stroke-width="0.75" stroke-dasharray="2,1.5" opacity="1"/><path d="M385.17,-3.35 L385.34,-0.95 L385.5,1.43 L385.67,3.79 L385.84,6.12 L386.01,8.43 L386.18,10.71 L386.36,12.98 L386.53,15.22 L386.71,17.43 L386.89,19.63 L387.07,21.8 L387.25,23.95 L387.43,26.08 L387.62,28.19 L387.81,30.27 L388,32.34 L388.19,34.38 L388.38,36.4 L388.57,38.4 L388.77,40.38 L388.97,42.35 L389.17,44.29 L389.37,46.21 L389.58,48.11 L389.78,49.99 L389.99,51.85 L390.2,53.69 L390.41,55.51 L390.62,57.32 L390.84,59.1 L391.06,60.87 L391.28,62.62 L391.5,64.34 L391.72,66.06 L391.95,67.75 L392.18,69.42 L392.41,71.08 L392.64,72.72 L392.88,74.34 L393.11,75.94 L393.35,77.53 L393.59,79.1 L393.84,80.65 L394.08,82.19 L394.33,83.71 L394.58,85.21 L394.84,86.7 L395.09,88.17 L395.35,89.62 L395.61,91.06 L395.87,92.48 L396.14,93.89 L396.41,95.28 L396.68,96.66 L396.95,98.02 L397.22,99.36 L397.5,100.69 L397.78,102 L398.07,103.3 L398.35,104.59 L398.64,105.86 L398.93,107.11 L399.23,108.35 L399.52,109.58 L399.82,110.79 L400.13,111.99 L400.43,113.17 L400.74,114.34 L401.05,115.5 L401.37,116.64 L401.68,117.77 L402,118.89 L402.33,119.99 L402.65,121.08 L402.98,122.15 L403.32,123.21 L403.65,124.26 L403.99,125.3 L404.33,126.32 L404.68,127.33 L405.03,128.33 L405.38,129.31 L405.73,130.29 L406.09,131.25 L406.45,132.19 L406.82,133.13 L407.19,134.05 L407.56,134.96 L407.94,135.86 L408.32,136.75 L408.7,137.63 L409.09,138.49 L409.48,139.34 L409.87,140.18 L410.27,141.01 L410.67,141.83 L411.07,142.63 L411.48,143.43 L411.9,144.21 L412.31,144.98 L412.73,145.75 L413.16,146.5 L413.59,147.23 L414.02,147.96 L414.46,148.68 L414.9,149.39 L415.34,150.08 L415.79,150.77 L416.25,151.44 L416.7,152.1 L417.17,152.76 L417.63,153.4 L418.1,154.03 L418.58,154.66 L419.06,155.27 L419.54,155.87 L420.03,156.46 L420.53,157.04 L421.03,157.61 L421.53,158.17 L422.04,158.73 L422.55,159.27 L423.07,159.8 L423.59,160.32 L424.12,160.83 L424.65,161.33 L425.19,161.83 L425.73,162.31 L426.28,162.78 L426.83,163.25 L427.39,163.7 L427.95,164.15 L428.52,164.58 L429.09,165.01 L429.67,165.42 L430.26,165.83 L430.85,166.23 L431.44,166.62 L432.05,167 L432.65,167.37 L433.27,167.73 L433.88,168.08 L434.51,168.42 L435.14,168.76 L435.78,169.08 L436.42,169.4 L437.07,169.71 L437.72,170 L438.38,170.29 L439.05,170.57 L439.72,170.84 L440.4,171.11 L441.09,171.36 L441.78,171.61 L442.48,171.84 L443.19,172.07 L443.9,172.29 L444.62,172.5 L445.35,172.7 L446.08,172.89 L446.82,173.08 L447.57,173.25 L448.32,173.42 L449.08,173.58 L449.85,173.73 L450.63,173.87 L451.41,174 L452.2,174.12 L453,174.24 L453.8,174.34 L454.62,174.44 L455.44,174.53 L456.27,174.61 L457.1,174.69 L457.95,174.75 L458.8,174.81 L459.66,174.85 L460.53,174.89 L461.4,174.92 L462.29,174.94 L463.18,174.96 L464.08,174.96 L464.99,174.96 L465.91,174.95 L466.84,174.93 L467.78,174.9 L468.72,174.86 L469.67,174.81 L470.64,174.76 L471.61,174.7 L472.59,174.62 L473.58,174.54 L474.58,174.46 L475.59,174.36 L476.61,174.25 L477.64,174.14 L478.68,174.02 L479.73,173.88 L480.78,173.74 L481.85,173.6 L482.93,173.44 L484.02,173.27 L485.12,173.1 L486.23,172.92 L487.35,172.73 L488.48,172.52 L489.62,172.32 L490.77,172.1 L491.93,171.87 L493.1,171.64 L494.29,171.39 L495.48,171.14 L496.69,170.88 L497.91,170.61 L499.14,170.33 L500.38,170.04 L501.63,169.74 L502.9,169.44 L504.18,169.12 L505.47,168.8 L506.77,168.47 L508.08,168.13 L509.41,167.77 L510.75,167.41 L512.1,167.05 L513.46,166.67 L514.84,166.28 L516.23,165.88 L517.63,165.48 L519.05,165.06 L520.48,164.64 L521.92,164.2 L523.38,163.76 L524.85,163.31 L526.33,162.84 L527.83,162.37 L529.35,161.89 L530.87,161.4 L532.41,160.9 L533.97,160.39 L535.54,159.87 L537.13,159.34 L538.73,158.8 L540.34,158.25 L541.97,157.69 L543.62,157.12 L545.28,156.54 L546.96,155.95 L548.66,155.35 L550.36,154.73 L552.09,154.11 L553.83,153.48 L555.59,152.84 L557.37,152.19 L559.16,151.53 L560.97,150.85 L562.79,150.17 L564.64,149.48 L566.5,148.77 L568.38,148.06 L570.27,147.33 L572.19,146.59 L574.12,145.84 L576.07,145.08 L578.04,144.31 L580.03,143.53 L582.03,142.74 L584.06,141.93 L586.1,141.12 L588.17,140.29 L590.25,139.45 L592.35,138.6 L594.47,137.74 L596.62,136.87 L598.78,135.98 L600.96,135.08 L603.17,134.17 L605.39,133.25 L607.64,132.32 L609.91,131.37 L612.2,130.41 L614.51,129.44 L616.84,128.46 L619.19,127.46 L621.57,126.45 L623.97,125.43 L626.39,124.4 L628.83,123.35 L631.3,122.29 L633.79,121.22 L636.31,120.13 L638.85,119.03 L641.41,117.92 L644,116.79 L646.61,115.65 L649.24,114.49 L651.9,113.33 L654.59,112.14 L657.3,110.95" fill="none" stroke="#0000ff" stroke-width="1.4" stroke-linejoin="round"/><path d="M376.23,0.78 L376.33,3.85 L376.43,6.88 L376.53,9.87 L376.63,12.83 L376.74,15.75 L376.85,18.64 L376.95,21.49 L377.06,24.3 L377.17,27.08 L377.28,29.83 L377.4,32.54 L377.51,35.22 L377.63,37.87 L377.74,40.48 L377.86,43.06 L377.98,45.61 L378.1,48.13 L378.23,50.62 L378.35,53.07 L378.47,55.5 L378.6,57.9 L378.73,60.26 L378.86,62.6 L378.99,64.91 L379.13,67.19 L379.26,69.44 L379.4,71.66 L379.53,73.85 L379.67,76.02 L379.81,78.16 L379.96,80.27 L380.1,82.36 L380.25,84.42 L380.4,86.45 L380.55,88.46 L380.7,90.44 L380.85,92.4 L381.01,94.33 L381.16,96.23 L381.32,98.12 L381.48,99.98 L381.65,101.81 L381.81,103.62 L381.98,105.41 L382.15,107.17 L382.32,108.92 L382.49,110.64 L382.67,112.33 L382.84,114.01 L383.02,115.66 L383.2,117.29 L383.39,118.9 L383.57,120.49 L383.76,122.06 L383.95,123.6 L384.14,125.13 L384.33,126.63 L384.53,128.12 L384.73,129.58 L384.93,131.03 L385.14,132.46 L385.34,133.86 L385.55,135.25 L385.76,136.62 L385.98,137.97 L386.19,139.3 L386.41,140.61 L386.63,141.91 L386.86,143.18 L387.08,144.44 L387.31,145.68 L387.54,146.91 L387.78,148.11 L388.02,149.3 L388.26,150.47 L388.5,151.63 L388.75,152.77 L389,153.89 L389.25,155 L389.5,156.09 L389.76,157.16 L390.02,158.22 L390.29,159.26 L390.56,160.29 L390.83,161.3 L391.1,162.29 L391.38,163.27 L391.66,164.24 L391.94,165.19 L392.23,166.13 L392.52,167.05 L392.81,167.95 L393.11,168.85 L393.41,169.72 L393.72,170.59 L394.03,171.44 L394.34,172.27 L394.65,173.1 L394.97,173.91 L395.3,174.7 L395.62,175.48 L395.95,176.25 L396.29,177.01 L396.63,177.75 L396.97,178.48 L397.32,179.19 L397.67,179.9 L398.03,180.59 L398.38,181.26 L398.75,181.93 L399.12,182.58 L399.49,183.22 L399.87,183.85 L400.25,184.47 L400.63,185.07 L401.02,185.67 L401.42,186.25 L401.82,186.81 L402.23,187.37 L402.63,187.92 L403.05,188.45 L403.47,188.97 L403.89,189.48 L404.32,189.98 L404.76,190.47 L405.2,190.95 L405.64,191.41 L406.09,191.87 L406.55,192.31 L407.01,192.74 L407.48,193.16 L407.95,193.58 L408.43,193.98 L408.91,194.36 L409.4,194.74 L409.89,195.11 L410.39,195.47 L410.9,195.82 L411.41,196.15 L411.93,196.48 L412.46,196.79 L412.99,197.1 L413.53,197.39 L414.07,197.68 L414.62,197.95 L415.18,198.22 L415.74,198.47 L416.31,198.71 L416.89,198.95 L417.47,199.17 L418.07,199.39 L418.66,199.59 L419.27,199.78 L419.88,199.97 L420.5,200.14 L421.13,200.31 L421.76,200.46 L422.4,200.61 L423.05,200.74 L423.71,200.87 L424.38,200.98 L425.05,201.09 L425.73,201.18 L426.42,201.27 L427.12,201.35 L427.82,201.41 L428.54,201.47 L429.26,201.52 L429.99,201.55 L430.73,201.58 L431.48,201.6 L432.24,201.61 L433.01,201.61 L433.78,201.6 L434.57,201.58 L435.36,201.55 L436.17,201.51 L436.98,201.46 L437.8,201.4 L438.64,201.33 L439.48,201.25 L440.33,201.16 L441.2,201.06 L442.07,200.96 L442.95,200.84 L443.85,200.71 L444.75,200.58 L445.67,200.43 L446.59,200.27 L447.53,200.11 L448.48,199.93 L449.44,199.74 L450.41,199.55 L451.4,199.34 L452.39,199.12 L453.4,198.9 L454.42,198.66 L455.45,198.42 L456.49,198.16 L457.54,197.89 L458.61,197.62 L459.69,197.33 L460.79,197.03 L461.89,196.72 L463.01,196.41 L464.15,196.08 L465.29,195.74 L466.45,195.39 L467.63,195.03 L468.82,194.66 L470.02,194.28 L471.23,193.89 L472.46,193.49 L473.71,193.07 L474.97,192.65 L476.25,192.21 L477.54,191.77 L478.84,191.31 L480.16,190.84 L481.5,190.36 L482.85,189.87 L484.22,189.37 L485.61,188.86 L487.01,188.33 L488.43,187.8 L489.86,187.25 L491.32,186.69 L492.79,186.12 L494.27,185.54 L495.78,184.94 L497.3,184.33 L498.84,183.71 L500.4,183.08 L501.98,182.44 L503.58,181.78 L505.19,181.12 L506.83,180.44 L508.48,179.74 L510.16,179.04 L511.85,178.32 L513.57,177.58 L515.3,176.84 L517.06,176.08 L518.83,175.31 L520.63,174.53 L522.45,173.73 L524.29,172.92 L526.15,172.09 L528.04,171.25 L529.94,170.4 L531.87,169.53 L533.82,168.65 L535.8,167.76 L537.8,166.85 L539.82,165.92 L541.87,164.98 L543.94,164.03 L546.04,163.06 L548.16,162.08 L550.3,161.08 L552.48,160.06 L554.67,159.03 L556.9,157.99 L559.15,156.93 L561.43,155.85 L563.73,154.75 L566.06,153.65 L568.42,152.52 L570.81,151.38 L573.22,150.22 L575.67,149.04 L578.14,147.85 L580.65,146.64 L583.18,145.41 L585.74,144.17 L588.34,142.9 L590.96,141.62 L593.62,140.32 L596.3,139.01 L599.02,137.67 L601.77,136.32 L604.56,134.95 L607.38,133.55 L610.23,132.14 L613.11,130.71 L616.03,129.26 L618.99,127.79 L621.97,126.3 L625,124.79 L628.06,123.26 L631.16,121.71 L634.29,120.14 L637.46,118.55 L640.67,116.93 L643.92,115.3 L647.21,113.64 L650.53,111.96 L653.9,110.26 L657.3,108.53" fill="none" stroke="#ff0000" stroke-width="2.2" stroke-linejoin="round"/></g>
<line x1="370.7" y1="29.4" x2="657.3" y2="29.4" stroke="#c4c4c4" stroke-width="1.2"/>
<line x1="370.7" y1="258.6" x2="657.3" y2="258.6" stroke="#858585" stroke-width="1.1"/>
<line x1="370.7" y1="29.4" x2="370.7" y2="258.6" stroke="#b4b4b4" stroke-width="1.2"/>
<line x1="657.3" y1="29.4" x2="657.3" y2="258.6" stroke="#c4c4c4" stroke-width="1.2"/>
<line x1="396.75" y1="258.6" x2="396.75" y2="256.4" stroke="#b4b4b4" stroke-width="0.8"/>
<line x1="396.75" y1="29.4" x2="396.75" y2="31.6" stroke="#b4b4b4" stroke-width="0.8"/>
<line x1="425.7" y1="258.6" x2="425.7" y2="256.4" stroke="#b4b4b4" stroke-width="0.8"/>
<line x1="425.7" y1="29.4" x2="425.7" y2="31.6" stroke="#b4b4b4" stroke-width="0.8"/>
<line x1="454.65" y1="258.6" x2="454.65" y2="256.4" stroke="#b4b4b4" stroke-width="0.8"/>
<line x1="454.65" y1="29.4" x2="454.65" y2="31.6" stroke="#b4b4b4" stroke-width="0.8"/>
<line x1="483.6" y1="258.6" x2="483.6" y2="256.4" stroke="#b4b4b4" stroke-width="0.8"/>
<line x1="483.6" y1="29.4" x2="483.6" y2="31.6" stroke="#b4b4b4" stroke-width="0.8"/>
<line x1="512.55" y1="258.6" x2="512.55" y2="256.4" stroke="#b4b4b4" stroke-width="0.8"/>
<line x1="512.55" y1="29.4" x2="512.55" y2="31.6" stroke="#b4b4b4" stroke-width="0.8"/>
<line x1="541.5" y1="258.6" x2="541.5" y2="256.4" stroke="#b4b4b4" stroke-width="0.8"/>
<line x1="541.5" y1="29.4" x2="541.5" y2="31.6" stroke="#b4b4b4" stroke-width="0.8"/>
<line x1="570.45" y1="258.6" x2="570.45" y2="256.4" stroke="#b4b4b4" stroke-width="0.8"/>
<line x1="570.45" y1="29.4" x2="570.45" y2="31.6" stroke="#b4b4b4" stroke-width="0.8"/>
<line x1="599.4" y1="258.6" x2="599.4" y2="256.4" stroke="#b4b4b4" stroke-width="0.8"/>
<line x1="599.4" y1="29.4" x2="599.4" y2="31.6" stroke="#b4b4b4" stroke-width="0.8"/>
<line x1="628.35" y1="258.6" x2="628.35" y2="256.4" stroke="#b4b4b4" stroke-width="0.8"/>
<line x1="628.35" y1="29.4" x2="628.35" y2="31.6" stroke="#b4b4b4" stroke-width="0.8"/>
<line x1="370.7" y1="246.54" x2="372.9" y2="246.54" stroke="#858585" stroke-width="0.8"/>
<line x1="657.3" y1="246.54" x2="655.1" y2="246.54" stroke="#858585" stroke-width="0.8"/>
<line x1="370.7" y1="222.41" x2="372.9" y2="222.41" stroke="#858585" stroke-width="0.8"/>
<line x1="657.3" y1="222.41" x2="655.1" y2="222.41" stroke="#858585" stroke-width="0.8"/>
<line x1="370.7" y1="198.28" x2="372.9" y2="198.28" stroke="#858585" stroke-width="0.8"/>
<line x1="657.3" y1="198.28" x2="655.1" y2="198.28" stroke="#858585" stroke-width="0.8"/>
<line x1="370.7" y1="174.16" x2="372.9" y2="174.16" stroke="#858585" stroke-width="0.8"/>
<line x1="657.3" y1="174.16" x2="655.1" y2="174.16" stroke="#858585" stroke-width="0.8"/>
<line x1="370.7" y1="150.03" x2="372.9" y2="150.03" stroke="#858585" stroke-width="0.8"/>
<line x1="657.3" y1="150.03" x2="655.1" y2="150.03" stroke="#858585" stroke-width="0.8"/>
<line x1="370.7" y1="125.91" x2="372.9" y2="125.91" stroke="#858585" stroke-width="0.8"/>
<line x1="657.3" y1="125.91" x2="655.1" y2="125.91" stroke="#858585" stroke-width="0.8"/>
<line x1="370.7" y1="101.78" x2="372.9" y2="101.78" stroke="#858585" stroke-width="0.8"/>
<line x1="657.3" y1="101.78" x2="655.1" y2="101.78" stroke="#858585" stroke-width="0.8"/>
<line x1="370.7" y1="77.65" x2="372.9" y2="77.65" stroke="#858585" stroke-width="0.8"/>
<line x1="657.3" y1="77.65" x2="655.1" y2="77.65" stroke="#858585" stroke-width="0.8"/>
<line x1="370.7" y1="53.53" x2="372.9" y2="53.53" stroke="#858585" stroke-width="0.8"/>
<line x1="657.3" y1="53.53" x2="655.1" y2="53.53" stroke="#858585" stroke-width="0.8"/>
<line x1="370.7" y1="29.4" x2="372.9" y2="29.4" stroke="#858585" stroke-width="0.8"/>
<line x1="657.3" y1="29.4" x2="655.1" y2="29.4" stroke="#858585" stroke-width="0.8"/>
<text x="396.75" y="272.1" text-anchor="middle" font-size="10" font-weight="bold" stroke="#000" stroke-width="0.12" textLength="13.48" lengthAdjust="spacingAndGlyphs">0.1</text>
<text x="425.7" y="272.1" text-anchor="middle" font-size="10" font-weight="bold" stroke="#000" stroke-width="0.12" textLength="13.48" lengthAdjust="spacingAndGlyphs">0.2</text>
<text x="454.65" y="272.1" text-anchor="middle" font-size="10" font-weight="bold" stroke="#000" stroke-width="0.12" textLength="13.48" lengthAdjust="spacingAndGlyphs">0.3</text>
<text x="483.6" y="272.1" text-anchor="middle" font-size="10" font-weight="bold" stroke="#000" stroke-width="0.12" textLength="13.48" lengthAdjust="spacingAndGlyphs">0.4</text>
<text x="512.55" y="272.1" text-anchor="middle" font-size="10" font-weight="bold" stroke="#000" stroke-width="0.12" textLength="13.48" lengthAdjust="spacingAndGlyphs">0.5</text>
<text x="541.5" y="272.1" text-anchor="middle" font-size="10" font-weight="bold" stroke="#000" stroke-width="0.12" textLength="13.48" lengthAdjust="spacingAndGlyphs">0.6</text>
<text x="570.45" y="272.1" text-anchor="middle" font-size="10" font-weight="bold" stroke="#000" stroke-width="0.12" textLength="13.48" lengthAdjust="spacingAndGlyphs">0.7</text>
<text x="599.4" y="272.1" text-anchor="middle" font-size="10" font-weight="bold" stroke="#000" stroke-width="0.12" textLength="13.48" lengthAdjust="spacingAndGlyphs">0.8</text>
<text x="628.35" y="272.1" text-anchor="middle" font-size="10" font-weight="bold" stroke="#000" stroke-width="0.12" textLength="13.48" lengthAdjust="spacingAndGlyphs">0.9</text>
<text x="356.91" y="251.14" font-size="10" font-weight="bold" stroke="#000" stroke-width="0.12" textLength="10.79" lengthAdjust="spacingAndGlyphs">10</text>
<text x="356.91" y="227.01" font-size="10" font-weight="bold" stroke="#000" stroke-width="0.12" textLength="10.79" lengthAdjust="spacingAndGlyphs">20</text>
<text x="356.91" y="202.88" font-size="10" font-weight="bold" stroke="#000" stroke-width="0.12" textLength="10.79" lengthAdjust="spacingAndGlyphs">30</text>
<text x="356.91" y="178.76" font-size="10" font-weight="bold" stroke="#000" stroke-width="0.12" textLength="10.79" lengthAdjust="spacingAndGlyphs">40</text>
<text x="356.91" y="154.63" font-size="10" font-weight="bold" stroke="#000" stroke-width="0.12" textLength="10.79" lengthAdjust="spacingAndGlyphs">50</text>
<text x="356.91" y="130.51" font-size="10" font-weight="bold" stroke="#000" stroke-width="0.12" textLength="10.79" lengthAdjust="spacingAndGlyphs">60</text>
<text x="356.91" y="106.38" font-size="10" font-weight="bold" stroke="#000" stroke-width="0.12" textLength="10.79" lengthAdjust="spacingAndGlyphs">70</text>
<text x="356.91" y="82.25" font-size="10" font-weight="bold" stroke="#000" stroke-width="0.12" textLength="10.79" lengthAdjust="spacingAndGlyphs">80</text>
<text x="356.91" y="58.13" font-size="10" font-weight="bold" stroke="#000" stroke-width="0.12" textLength="10.79" lengthAdjust="spacingAndGlyphs">90</text>
<text x="351.52" y="34" font-size="10" font-weight="bold" stroke="#000" stroke-width="0.12" textLength="16.18" lengthAdjust="spacingAndGlyphs">100</text>
<text x="470.9" y="284.9" font-size="10.6" font-weight="bold" stroke="#000" stroke-width="0.12" textLength="85.3" lengthAdjust="spacingAndGlyphs">Active Area [cm²]</text>
<text transform="translate(347.1,165.9) rotate(-90)" x="0" y="0" font-size="9.6" font-weight="bold" stroke="#000" stroke-width="0.12" textLength="44.5" lengthAdjust="spacingAndGlyphs">Loss [W]</text>
<text transform="translate(499.99,16.7) scale(0.85,1)" font-size="19" font-weight="bold" stroke="#000" stroke-width="0.55">(</text>
<text transform="translate(506.6,16.5) scale(1.0,1)" font-size="18" font-weight="bold" stroke="#000" stroke-width="0.55">b</text>
<text transform="translate(519.3,16.7) scale(0.85,1)" font-size="19" font-weight="bold" stroke="#000" stroke-width="0.55">)</text>
<rect x="412" y="44.6" width="172.6" height="81.6" fill="#fff" stroke="#b4b4b4" stroke-width="1"/>
<line x1="412" y1="126.2" x2="584.6" y2="126.2" stroke="#858585" stroke-width="1"/>
<line x1="412" y1="44.6" x2="584.6" y2="44.6" stroke="#858585" stroke-width="1"/>
<text x="415.5" y="55.4" font-size="9.66" font-weight="bold" font-style="italic" stroke="#000" stroke-width="0.15" textLength="154.25" lengthAdjust="spacingAndGlyphs">Device Breakdown Voltage: 10 kV</text>
<text x="415.5" y="67.64" font-size="9.66" font-weight="bold" font-style="italic" stroke="#000" stroke-width="0.15" textLength="104.67" lengthAdjust="spacingAndGlyphs">Switched voltage: 6 kV</text>
<text x="415.5" y="79.88" font-size="9.66" font-weight="bold" font-style="italic" stroke="#000" stroke-width="0.15" textLength="104.31" lengthAdjust="spacingAndGlyphs">Switched current: 10 A</text>
<text x="415.5" y="92.12" font-size="9.66" font-weight="bold" font-style="italic" stroke="#000" stroke-width="0.15" textLength="67.65" lengthAdjust="spacingAndGlyphs">Duty cycle: 0.5</text>
<text x="415.5" y="104.36" font-size="9.66" font-weight="bold" font-style="italic" stroke="#000" stroke-width="0.15" textLength="130.97" lengthAdjust="spacingAndGlyphs">Switching frequency: 20 kHz</text>
<text x="415.5" y="116.6" font-size="9.66" font-weight="bold" font-style="italic" stroke="#000" stroke-width="0.15" textLength="89.83" lengthAdjust="spacingAndGlyphs">Temperature: 450 K</text>
<rect x="596.6" y="34.6" width="55.7" height="22.8" fill="#fff" stroke="#b4b4b4" stroke-width="1"/>
<line x1="596.6" y1="57.4" x2="652.3" y2="57.4" stroke="#858585" stroke-width="1"/>
<line x1="596.6" y1="34.6" x2="652.3" y2="34.6" stroke="#858585" stroke-width="1"/>
<line x1="597.9" y1="40.6" x2="612.3" y2="40.6" stroke="#ff0000" stroke-width="1.4"/>
<text x="613.6" y="44.3" font-size="9.7" font-weight="bold" textLength="36.2" lengthAdjust="spacingAndGlyphs">Diamond</text>
<line x1="597.9" y1="51.8" x2="612.3" y2="51.8" stroke="#0000ff" stroke-width="1.4"/>
<text x="613.6" y="55.3" font-size="9.7" font-weight="bold" textLength="14.5" lengthAdjust="spacingAndGlyphs">SiC</text>
</g>
</svg>
</body></html>
